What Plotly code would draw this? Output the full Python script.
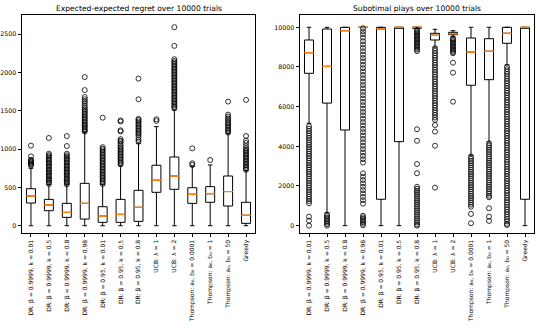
import plotly.graph_objects as go

labels = [
    "DR: β = 0.9999, k = 0.01",
    "DR: β = 0.9999, k = 0.5",
    "DR: β = 0.9999, k = 0.8",
    "DR: β = 0.9999, k = 0.98",
    "DR: β = 0.95, k = 0.01",
    "DR: β = 0.95, k = 0.5",
    "DR: β = 0.95, k = 0.8",
    "UCB: λ = 1",
    "UCB: λ = 2",
    "Thompson: a₀, b₀ = 0.0001",
    "Thompson: a₀, b₀ = 1",
    "Thompson: a₀, b₀ = 50",
    "Greedy",
]

# expected-expected regret (left)
regret_q1 = [296, 196, 109, 87, 44, 44, 57, 436, 475, 292, 306, 257, 31]
regret_med = [388, 270, 174, 292, 126, 148, 240, 593, 649, 410, 418, 446, 136]
regret_q3 = [483, 344, 292, 553, 248, 344, 462, 789, 897, 496, 510, 649, 306]
regret_low = [0] * 13
regret_high = [749, 540, 540, 1225, 540, 784, 1076, 1293, 1511, 775, 793, 1207, 718]
regret_out = [
    [785, 800, 812, 825, 838, 850, 862, 905, 1045],
    [545, 565, 585, 600, 620, 640, 655, 675, 695, 715, 730, 750, 770, 790, 810, 825,
     845, 865, 885, 905, 920, 940, 1145],
    [540, 560, 580, 600, 615, 635, 655, 675, 690, 710, 730, 750, 770, 785, 805, 825,
     845, 865, 880, 900, 920, 940, 1040, 1170],
    [1230, 1245, 1265, 1285, 1305, 1320, 1340, 1360, 1380, 1400, 1420, 1440, 1460,
     1480, 1500, 1520, 1545, 1570, 1600, 1625, 1650, 1680, 1770, 1940],
    [545, 565, 585, 605, 625, 645, 665, 685, 705, 725, 745, 765, 785, 805, 825, 845,
     865, 885, 905, 925, 945, 965, 985, 1005, 1025, 1410],
    [800, 820, 840, 860, 880, 900, 920, 940, 960, 980, 1000, 1020, 1045, 1070, 1095,
     1110, 1130, 1230, 1245, 1360, 1375],
    [1095, 1120, 1150, 1180, 1200, 1220, 1240, 1260, 1280, 1300, 1320, 1340, 1360,
     1380, 1395, 1650, 1920],
    [1368, 1390],
    [1533, 1550, 1570, 1590, 1610, 1630, 1650, 1670, 1690, 1710, 1730, 1750, 1770,
     1790, 1810, 1830, 1850, 1870, 1890, 1910, 1930, 1950, 1970, 1990, 2010, 2030,
     2050, 2070, 2090, 2110, 2130, 2150, 2173, 2347, 2591],
    [793, 815, 1010],
    [858],
    [1215, 1235, 1255, 1275, 1295, 1315, 1335, 1355, 1380, 1400, 1425, 1450, 1620],
    [730, 750, 770, 790, 810, 830, 850, 870, 890, 910, 930, 950, 970, 990, 1010,
     1040, 1080, 1110, 1171, 1642],
]

# suboptimal plays (right)
plays_q1 = [7681, 6178, 4822, 9990, 1331, 4234, 9950, 9360, 9627, 7077, 7359, 9193, 1331]
plays_med = [8720, 8030, 9829, 10000, 9913, 10000, 10000, 9597, 9677, 8755, 8790, 9697, 10000]
plays_q3 = [9360, 9913, 10000, 10000, 10000, 10000, 10000, 9697, 9748, 9461, 9425, 10000, 10000]
plays_low = [5161, 655, 0, 9990, 0, 0, 9930, 9000, 9526, 3548, 4219, 8100, 0]
plays_high = [10000, 10000, 10000, 10000, 10000, 10000, 10000, 9899, 9829, 10000, 10000, 10000, 10000]
plays_out = [
    [5010, 4890, 4770, 4650, 4540, 4420, 4300, 4190, 4080, 3960, 3850, 3740, 3620,
     3510, 3400, 3280, 3170, 3050, 2940, 2830, 2710, 2600, 2490, 2370, 2260, 2140,
     2030, 1920, 1800, 1690, 1580, 1460, 1350, 1240, 1130, 454, 252, 0],
    [560, 480, 400, 320, 240, 160, 80, 0],
    [],
    [9950, 9800, 9650, 9480, 9300, 9130, 8960, 8790, 8620, 8450, 8280, 8110, 7940,
     7770, 7600, 7430, 7260, 7090, 6920, 6750, 6580, 6410, 6240, 6070, 5900, 5730,
     5560, 5390, 5220, 5050, 4880, 4710, 4540, 4370, 4200, 4030, 3860, 3690, 3520,
     3350, 3180, 2640, 2470, 2300, 2130, 1960, 1790, 1620, 1450, 1280, 1110, 500,
     420, 340, 260, 180, 100, 20],
    [],
    [],
    [9870, 9800, 9730, 9660, 9590, 9520, 9450, 9380, 9310, 9240, 9170, 9100, 9030,
     8960, 8880, 8800, 4860, 4280, 3110, 2640, 1960, 1860, 1760, 1660, 1560, 1460,
     1360, 1260, 1160, 1060, 960, 860, 760, 660, 560, 460, 360, 260, 160, 60, 0],
    [8940, 8820, 8700, 8580, 8460, 8340, 8220, 8100, 7980, 7860, 7740, 7620, 7500,
     7380, 7260, 7140, 7020, 6900, 6780, 6660, 6540, 6420, 6300, 6180, 6060, 5940,
     5820, 5700, 5580, 5450, 5330, 5075, 4740, 4030, 1915],
    [9446, 9380, 9310, 9240, 9170, 9100, 9030, 8960, 8890, 8820, 8750, 8690, 8216,
     7712, 6250],
    [3480, 3370, 3260, 3150, 3040, 2930, 2820, 2710, 2600, 2490, 2380, 2270, 2160,
     2050, 1940, 1830, 1720, 1610, 1500, 1390, 1280, 1170, 1060, 952, 590, 121],
    [4150, 4040, 3930, 3820, 3710, 3600, 3490, 3380, 3270, 3160, 3050, 2940, 2830,
     2720, 2610, 2500, 2390, 2280, 2170, 2060, 1950, 1840, 1730, 1620, 1510, 1431,
     877, 454, 237],
    [8010, 7890, 7770, 7650, 7530, 7410, 7290, 7170, 7050, 6930, 6810, 6690, 6570,
     6450, 6330, 6210, 6090, 5970, 5850, 5730, 5610, 5490, 5370, 5250, 5130, 5010,
     4890, 4770, 4650, 4530, 4410, 4290, 4170, 4050, 3930, 3810, 3690, 3570, 3450,
     3330, 3210, 3090, 2970, 2850, 2730, 2610, 2490, 2370, 2250, 2130, 2010, 1890,
     1770, 1650, 1530, 1410, 1290, 1170, 1050, 930, 810, 690, 570, 450, 330, 210,
     90, 35],
    [],
]

FONT = "DejaVu Sans"
ORANGE = "#ff7f0e"

fig = go.Figure()


def add_panel(q1, med, q3, low, high, outliers, xa, ya):
    fig.add_trace(go.Box(
        x=labels, q1=q1, median=med, q3=q3, lowerfence=low, upperfence=high,
        width=0.5, whiskerwidth=0.5, fillcolor="rgba(0,0,0,0)",
        line=dict(color="black", width=1), boxpoints=False,
        xaxis=xa, yaxis=ya, showlegend=False, hoverinfo="skip",
    ))
    # orange median line drawn as a flat box on top
    fig.add_trace(go.Box(
        x=labels, q1=med, median=med, q3=med, lowerfence=med, upperfence=med,
        width=0.5, whiskerwidth=0, fillcolor="rgba(0,0,0,0)",
        line=dict(color=ORANGE, width=1), boxpoints=False,
        xaxis=xa, yaxis=ya, showlegend=False, hoverinfo="skip",
    ))
    xs, ys = [], []
    for lab, vals in zip(labels, outliers):
        xs += [lab] * len(vals)
        ys += vals
    fig.add_trace(go.Scatter(
        x=xs, y=ys, mode="markers", xaxis=xa, yaxis=ya, showlegend=False,
        marker=dict(symbol="circle-open", size=5, color="black", line=dict(width=0.8)),
    ))


add_panel(regret_q1, regret_med, regret_q3, regret_low, regret_high, regret_out, "x", "y")
add_panel(plays_q1, plays_med, plays_q3, plays_low, plays_high, plays_out, "x2", "y2")

axis_common = dict(
    showline=True, mirror=True, linecolor="black", linewidth=0.8, automargin=False,
    showgrid=False, zeroline=False, ticks="outside", ticklen=3.5, tickwidth=0.8,
    tickcolor="black", tickfont=dict(family=FONT, size=6.3, color="black"),
)
xaxis_common = dict(
    axis_common, type="category", categoryorder="array", categoryarray=labels,
    range=[-0.5, 12.5], tickangle=-90, tickfont=dict(family=FONT, size=6, color="black"),
)

fig.update_layout(
    width=538, height=330,
    margin=dict(l=0, r=0, t=0, b=0, autoexpand=False),
    paper_bgcolor="white", plot_bgcolor="white",
    boxmode="overlay",
    xaxis=dict(xaxis_common, domain=[22 / 538, 255 / 538], anchor="y"),
    yaxis=dict(axis_common, domain=[1 - 233 / 330, 1 - 15 / 330], anchor="x",
               range=[-95, 2750], tickvals=[0, 500, 1000, 1500, 2000, 2500], tickformat="d"),
    xaxis2=dict(xaxis_common, domain=[300 / 538, 534 / 538], anchor="y2"),
    yaxis2=dict(axis_common, domain=[1 - 233 / 330, 1 - 15 / 330], anchor="x2",
                range=[-370, 10620], tickvals=[0, 2000, 4000, 6000, 8000, 10000], tickformat="d"),
    annotations=[
        dict(text="Expected-expected regret over 10000 trials", x=(22 + 255) / 2 / 538,
             y=1 - 8 / 330, xref="paper", yref="paper", showarrow=False,
             font=dict(family=FONT, size=7.6, color="black"),
             xanchor="center", yanchor="middle"),
        dict(text="Subotimal plays over 10000 trials", x=(300 + 534) / 2 / 538,
             y=1 - 8 / 330, xref="paper", yref="paper", showarrow=False,
             font=dict(family=FONT, size=7.6, color="black"),
             xanchor="center", yanchor="middle"),
    ],
)

fig.write_html("out.html", config={"displayModeBar": False},
               post_script="document.body.style.margin='0';")
